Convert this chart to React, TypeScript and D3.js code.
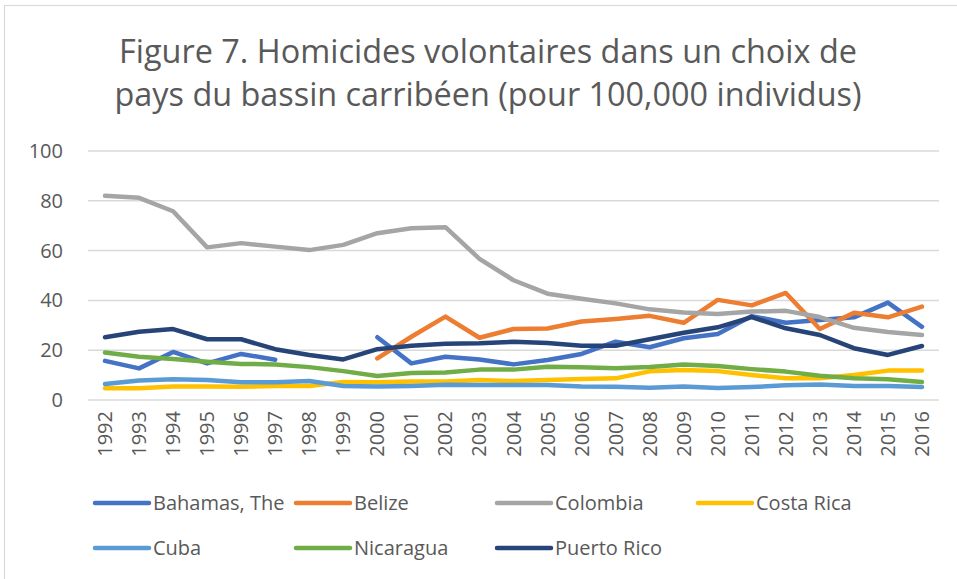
import React, { useEffect, useRef } from 'react';
import * as d3 from 'd3';

const years = ['1992', '1993', '1994', '1995', '1996', '1997', '1998', '1999', '2000', '2001', '2002', '2003',
  '2004', '2005', '2006', '2007', '2008', '2009', '2010', '2011', '2012', '2013', '2014', '2015', '2016'];

const yTicks = [0, 20, 40, 60, 80, 100];

const bahamas = [15.7, 12.7, 19.3, 14.7, 18.5, 16.2, null, null, 25.2, 14.7, 17.4, 16.3, 14.3, 16.1, 18.5, 23.4,
  21.2, 24.8, 26.5, 33.7, 31.0, 32.1, 33.2, 39.1, 29.4];
const belize = [null, null, null, null, null, null, null, null, 16.7, 25.4, 33.5, 25.0, 28.5, 28.7, 31.5, 32.5,
  33.8, 31.0, 40.2, 38.0, 43.0, 28.5, 35.0, 33.2, 37.5];
const colombia = [82.0, 81.2, 75.8, 61.3, 63.0, 61.6, 60.2, 62.3, 67.0, 69.0, 69.4, 56.7, 48.1, 42.7, 40.7, 38.8,
  36.4, 35.1, 34.5, 35.5, 35.8, 33.3, 29.0, 27.3, 26.1];
const costaRica = [4.7, 4.7, 5.4, 5.4, 5.3, 5.6, 5.6, 7.2, 7.1, 7.4, 7.4, 8.0, 7.6, 8.0, 8.4, 8.7,
  11.5, 12.0, 11.6, 10.0, 8.7, 8.7, 10.0, 11.8, 11.8];
const cuba = [6.4, 7.8, 8.3, 8.0, 7.1, 7.1, 7.6, 5.6, 5.4, 5.6, 6.1, 6.0, 6.0, 6.0, 5.4, 5.3,
  4.9, 5.4, 4.8, 5.2, 5.9, 6.2, 5.6, 5.6, 5.2];
const nicaragua = [19.1, 17.4, 16.5, 15.4, 14.5, 14.3, 13.2, 11.6, 9.6, 10.8, 11.0, 12.2, 12.2, 13.4, 13.2, 12.8,
  13.3, 14.3, 13.7, 12.4, 11.4, 9.7, 8.7, 8.3, 7.2];
const puertoRico = [25.2, 27.4, 28.5, 24.4, 24.4, 20.4, 18.1, 16.3, 20.4, 21.8, 22.6, 22.8, 23.4, 22.9, 21.8, 21.8,
  24.4, 27.0, 29.2, 33.3, 28.8, 26.1, 20.8, 18.1, 21.7];

const seriesNames = ['Bahamas, The', 'Belize', 'Colombia', 'Costa Rica', 'Cuba', 'Nicaragua', 'Puerto Rico'];
const seriesColors = ['#4472C4', '#ED7D31', '#A5A5A5', '#FFC000', '#5B9BD5', '#70AD47', '#264478'];
const seriesValues = [bahamas, belize, colombia, costaRica, cuba, nicaragua, puertoRico];

const titleLines = ['Figure 7. Homicides volontaires dans un choix de', 'pays du bassin carribéen (pour 100,000 individus)'];

const W = 957;
const H = 579;
const FONT = "'Open Sans', sans-serif";
const TEXT = '#595959';

const App = () => {
  const svgRef = useRef<SVGSVGElement | null>(null);

  useEffect(() => {
    const svg = d3.select(svgRef.current);
    svg.selectAll('*').remove();

    // chart border
    svg.append('rect')
      .attr('x', 4.5).attr('y', 5.5)
      .attr('width', W).attr('height', H)
      .attr('fill', 'white')
      .attr('stroke', '#D9D9D9').attr('stroke-width', 1.2);

    // title
    const titleWidths = [738, 747];
    svg.append('g').selectAll('text')
      .data(titleLines)
      .enter()
      .append('text')
      .attr('x', 488)
      .attr('y', (d, i) => 63 + i * 43)
      .attr('text-anchor', 'middle')
      .attr('textLength', (d, i) => titleWidths[i])
      .attr('lengthAdjust', 'spacingAndGlyphs')
      .style('font-family', FONT)
      .style('font-size', '33px')
      .attr('fill', TEXT)
      .text(d => d);

    const x = d3.scaleBand().domain(years).range([88, 939]);
    const y = d3.scaleLinear().domain([0, 100]).range([400, 151]);
    const cx = (yr: string) => (x(yr) as number) + x.bandwidth() / 2;

    // gridlines
    svg.append('g').selectAll('line')
      .data(yTicks)
      .enter()
      .append('line')
      .attr('x1', 88).attr('x2', 939)
      .attr('y1', d => y(d)).attr('y2', d => y(d))
      .attr('stroke', '#D9D9D9').attr('stroke-width', 1.5);

    // y labels
    svg.append('g').selectAll('text')
      .data(yTicks)
      .enter()
      .append('text')
      .attr('x', 63)
      .attr('y', d => y(d))
      .attr('dy', '0.35em')
      .attr('text-anchor', 'end')
      .style('font-family', FONT)
      .style('font-size', '20px')
      .attr('fill', TEXT)
      .text(d => d);

    // x labels, rotated
    svg.append('g').selectAll('text')
      .data(years)
      .enter()
      .append('text')
      .attr('transform', d => `translate(${cx(d)}, 411) rotate(-90)`)
      .attr('dy', '0.35em')
      .attr('text-anchor', 'end')
      .style('font-family', FONT)
      .style('font-size', '20px')
      .attr('fill', TEXT)
      .text(d => d);

    // series lines
    const line = d3.line<number | null>()
      .defined(d => d != null)
      .x((d, i) => cx(years[i]))
      .y(d => y(d as number));

    svg.append('g').selectAll('path')
      .data(seriesValues)
      .enter()
      .append('path')
      .attr('d', d => line(d))
      .attr('fill', 'none')
      .attr('stroke', (d, i) => seriesColors[i])
      .attr('stroke-width', 4.5)
      .attr('stroke-linecap', 'round')
      .attr('stroke-linejoin', 'round');

    // legend
    const legend = svg.append('g').selectAll('g')
      .data(seriesNames)
      .enter()
      .append('g')
      .attr('transform', (d, i) => `translate(${95 + (i % 4) * 201}, ${503 + Math.floor(i / 4) * 45})`);

    legend.append('line')
      .attr('x1', 0).attr('x2', 54)
      .attr('y1', 0).attr('y2', 0)
      .attr('stroke', (d, i) => seriesColors[i])
      .attr('stroke-width', 4.5)
      .attr('stroke-linecap', 'round');

    legend.append('text')
      .attr('x', 58)
      .attr('y', 0)
      .attr('dy', '0.35em')
      .style('font-family', FONT)
      .style('font-size', '20px')
      .attr('fill', TEXT)
      .text(d => d);
  }, []);

  return (
    <div style={{ position: 'fixed', left: 0, top: 0, width: W, height: H, background: 'white' }}>
      <svg ref={svgRef} width={W} height={H} style={{ display: 'block' }} />
    </div>
  );
};

export default App;
